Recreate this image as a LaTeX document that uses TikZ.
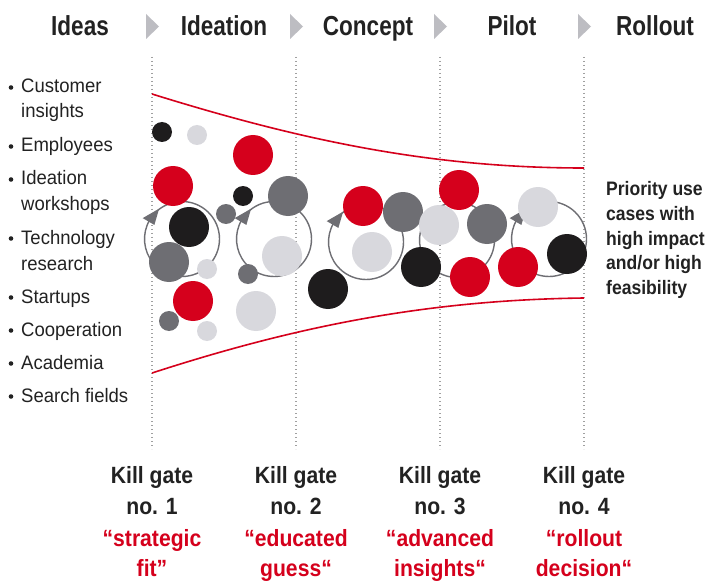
\documentclass[tikz,border=0pt]{standalone}
\usepackage{fontspec}
\setmainfont{Liberation Sans}
\newfontfamily\hfont[FakeStretch=0.82]{Liberation Sans}
\newfontfamily\kfont[FakeStretch=0.9]{Liberation Sans}
\newfontfamily\lfont[FakeStretch=0.95]{Liberation Sans}
\usetikzlibrary{arrows.meta,calc}
\definecolor{pred}{HTML}{D5001C}
\definecolor{pblack}{HTML}{1E1C1D}
\definecolor{pdark}{HTML}{6E6E73}
\definecolor{plight}{HTML}{D8D8DD}
\definecolor{ptri}{HTML}{BDBDC2}
\definecolor{ptext}{HTML}{222222}
\definecolor{pdot}{HTML}{A0A0A0}
\tikzset{
  hdr/.style={font=\hfont\bfseries\fontsize{27.5}{30}\selectfont, text=ptext, anchor=base, inner sep=0},
  itm/.style={font=\lfont\fontsize{19.5}{22}\selectfont, text=ptext, anchor=base west, inner sep=0},
  gate/.style={font=\kfont\bfseries\fontsize{23.5}{26}\selectfont, text=ptext, anchor=base, inner sep=0},
  gatered/.style={gate, text=pred},
  prio/.style={font=\kfont\bfseries\fontsize{19.5}{22}\selectfont, text=ptext, anchor=base west, inner sep=0},
  gateline/.style={pdot, line width=1.3pt, dash pattern=on 1.3pt off 2.7pt},
  funnel/.style={pred, line width=1.6pt},
  ring/.style={pdark, line width=1.4pt},
  ringtip/.style={pdark},
  big/.style={radius=20},
  small/.style={radius=10},
}
\begin{document}
\begin{tikzpicture}[x=1pt, y=-1pt]
\useasboundingbox (0,0) rectangle (707,583);
\fill[white] (0,0) rectangle (707,583);

% header
\node[hdr] (h1) at (80,36) {Ideas};
\node[hdr] (h2) at (224,36) {Ideation};
\node[hdr] (h3) at (368,36) {Concept};
\node[hdr] (h4) at (512,36) {Pilot};
\node[hdr] (h5) at (655,36) {Rollout};
\foreach \x in {152,296,440,584}{
  \fill[ptri] (\x-6,14) -- (\x-6,39) -- (\x+7,26.5) -- cycle;
}

% gate lines
\foreach \x in {152,296,440,584}{
  \draw[gateline] (\x,57) -- (\x,449);
}

% funnel
\draw[funnel] (152,94) .. controls (300,140) and (430,168) .. (584,168);
\draw[funnel] (152,373) .. controls (300,325) and (430,300) .. (584,298);

% rings with arrowheads
\foreach \cx/\cy in {182/239, 274/239, 366/242, 457/240, 549/239}{
  \coordinate (rc) at (\cx,\cy);
  \draw[ring] (rc) ++(-490:37.5) arc[start angle=-490, end angle=-150, radius=37.5];
  \coordinate (tip) at ($(rc)+(-127:38)$);
  \coordinate (bo) at ($(rc)+(-152:44.5)$);
  \coordinate (bi) at ($(rc)+(-153:31)$);
  \fill[ringtip] (bo) -- (tip) -- (bi) -- cycle;
}

% circles
\fill[pblack] (162,132) circle[small];
\fill[plight] (197,135) circle[small];
\fill[pred] (253,155) circle[big];
\fill[pred] (173,186) circle[big];
\fill[pblack] (243,196) circle[small];
\fill[pdark] (288,196) circle[big];
\fill[pdark] (226,214) circle[small];
\fill[pblack] (189,227) circle[big];
\fill[pdark] (169,262) circle[big];
\fill[plight] (207,269) circle[small];
\fill[plight] (282,256) circle[big];
\fill[pdark] (248,274) circle[small];
\fill[pred] (193,301) circle[big];
\fill[pdark] (169,321) circle[small];
\fill[plight] (207,331) circle[small];
\fill[plight] (256,311) circle[big];
\fill[pblack] (328,289) circle[big];

\fill[pred] (363,206) circle[big];
\fill[pdark] (403,212) circle[big];
\fill[plight] (372,252) circle[big];
\fill[pred] (459,190) circle[big];
\fill[plight] (439,225) circle[big];
\fill[pdark] (487,224) circle[big];
\fill[pblack] (421,267) circle[big];
\fill[pred] (470,277) circle[big];
\fill[plight] (538,207) circle[big];
\fill[pred] (518,267) circle[big];
\fill[pblack] (567,254) circle[big];

% sources list
\foreach \y/\t in {93/Customer, 118/insights, 152/Employees, 185/Ideation, 211/workshops, 244/Technology, 270/research, 303/Startups, 336/Cooperation, 369/Academia, 402/Search fields}{
  \node[itm] at (21,\y) {\t};
}
\foreach \y in {93,152,185,244,303,336,369,402}{
  \fill[ptext] (11,\y-5.5) circle[radius=2.3];
}

% priority text
\node[prio] (p1) at (606,196) {Priority use};
\node[prio] (p2) at (606,220.5) {cases with};
\node[prio] (p3) at (606,245) {high impact};
\node[prio] (p4) at (606,269.5) {and/or high};
\node[prio] (p5) at (606,294) {feasibility};

% kill gates
\foreach \x/\n/\a/\b in {152/1/“strategic/fit”, 296/2/“educated/guess“, 440/3/“advanced/insights“, 584/4/“rollout/decision“}{
  \node[gate] at (\x,483) {Kill gate};
  \node[gate] at (\x,514.5) {no. \n};
  \node[gatered] at (\x,546) {\a};
  \node[gatered] at (\x,576.5) {\b};
}
\end{tikzpicture}
\end{document}
